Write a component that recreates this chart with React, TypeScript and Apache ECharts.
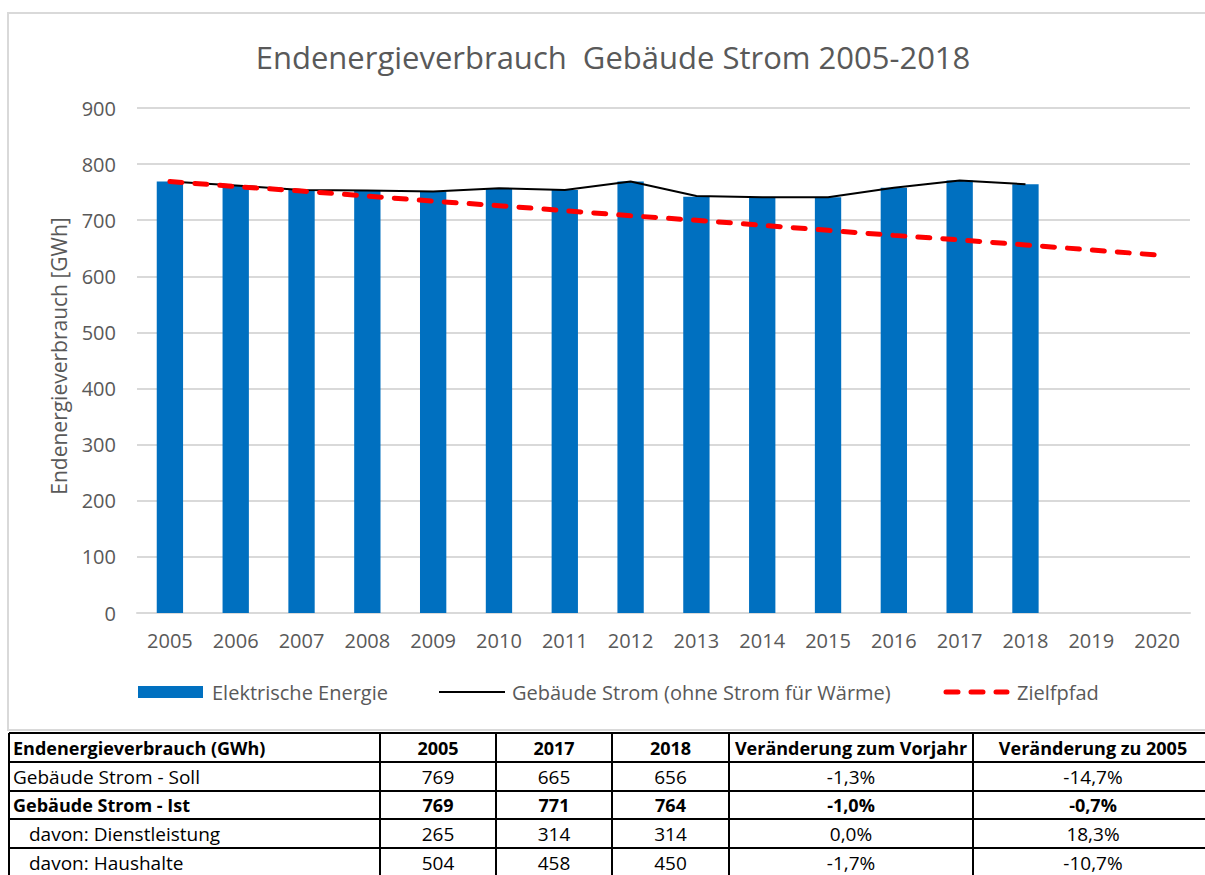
import React, { useEffect, useRef } from "react";
import * as echarts from "echarts";

const FONT = "'Open Sans', 'Noto Sans', sans-serif";

const years = ["2005", "2006", "2007", "2008", "2009", "2010", "2011", "2012", "2013", "2014", "2015", "2016", "2017", "2018", "2019", "2020"];
const elektrischeEnergie = [769, 762, 754, 753, 751, 757, 754, 769, 742, 741, 741, 758, 771, 764];
const gebaeudeStrom = [769, 762, 754, 753, 751, 757, 754, 769, 743, 741, 741, 758, 771, 764];
const zielpfad = [769, 760, 752, 743, 734, 726, 717, 708, 700, 691, 682, 673, 665, 656, 647, 638];

const seriesNames = ["Elektrische Energie", "Gebäude Strom (ohne Strom für Wärme)", "Zielfpfad"];

const tableHeader = ["Endenergieverbrauch (GWh)", "2005", "2017", "2018", "Veränderung zum Vorjahr", "Veränderung zu 2005"];
const tableLabels = ["Gebäude Strom - Soll", "Gebäude Strom - Ist", "davon: Dienstleistung", "davon: Haushalte"];
const labelIndent = [0, 0, 1, 1];
const tableValues = [
  ["769", "665", "656", "-1,3%", "-14,7%"],
  ["769", "771", "764", "-1,0%", "-0,7%"],
  ["265", "314", "314", "0,0%", "18,3%"],
  ["504", "458", "450", "-1,7%", "-10,7%"],
];
const boldRows = [true, false, true, false, false];

const colX = [9, 380, 496, 612, 729, 973, 1213];
const rowY = [733, 762, 791, 819, 848, 877];

export default function App() {
  const ref = useRef<HTMLDivElement>(null);
  useEffect(() => {
    if (!ref.current) return;
    const chart = echarts.init(ref.current, null, { renderer: "svg" });

    const graphic: any[] = [];
    graphic.push({
      type: "rect",
      shape: { x: 8, y: 13, width: 1210, height: 717 },
      style: { fill: "none", stroke: "#d9d9d9", lineWidth: 2 },
      silent: true,
    });
    graphic.push({
      type: "text",
      x: 613,
      y: 57,
      style: {
        text: "Endenergieverbrauch  Gebäude Strom 2005-2018",
        fontSize: 31,
        fontFamily: FONT,
        fill: "#595959",
        align: "center",
        verticalAlign: "middle",
      },
    });
    graphic.push({
      type: "text",
      x: 59,
      y: 356,
      rotation: Math.PI / 2,
      style: {
        text: "Endenergieverbrauch [GWh]",
        fontSize: 21,
        fontFamily: FONT,
        fill: "#595959",
        align: "center",
        verticalAlign: "middle",
      },
    });

    // legend
    const legY = 692;
    const legendFont = { fontSize: 20, fontFamily: FONT, fill: "#595959", align: "left", verticalAlign: "middle" };
    graphic.push({
      type: "rect",
      shape: { x: 138, y: legY - 6, width: 65, height: 12 },
      style: { fill: "#0070C0" },
    });
    graphic.push({ type: "text", x: 212, y: legY, style: { ...legendFont, text: seriesNames[0] } });
    graphic.push({
      type: "line",
      shape: { x1: 439, y1: legY, x2: 505, y2: legY },
      style: { stroke: "#000", lineWidth: 2 },
    });
    graphic.push({ type: "text", x: 512, y: legY, style: { ...legendFont, text: seriesNames[1] } });
    graphic.push({
      type: "line",
      shape: { x1: 946, y1: legY, x2: 1007, y2: legY },
      style: { stroke: "#FF0000", lineWidth: 5, lineDash: [12, 13], lineCap: "round" },
    });
    graphic.push({ type: "text", x: 1017, y: legY, style: { ...legendFont, text: seriesNames[2] } });

    // table lines
    rowY.forEach((y) => {
      graphic.push({
        type: "line",
        shape: { x1: colX[0], y1: y, x2: 1215, y2: y },
        style: { stroke: "#000", lineWidth: 2 },
      });
    });
    colX.forEach((x) => {
      graphic.push({
        type: "line",
        shape: { x1: x, y1: rowY[0], x2: x, y2: 880 },
        style: { stroke: "#000", lineWidth: 2 },
      });
    });
    const rows = [tableHeader, ...tableLabels.map((l, i) => [l, ...tableValues[i]])];
    rows.forEach((row, r) => {
      const cy = (rowY[r] + rowY[r + 1]) / 2;
      row.forEach((cell, c) => {
        const isFirst = c === 0;
        const indent = r > 0 && labelIndent[r - 1] ? 16 : 0;
        graphic.push({
          type: "text",
          x: isFirst ? colX[0] + 4 + indent : (colX[c] + colX[c + 1]) / 2,
          y: cy,
          style: {
            text: cell,
            fontSize: boldRows[r] ? 18 : 19,
            fontFamily: FONT,
            fontWeight: boldRows[r] ? "bold" : "normal",
            fill: "#000",
            align: isFirst ? "left" : "center",
            verticalAlign: "middle",
          },
        });
      });
    });

    chart.setOption({
      animation: false,
      grid: { left: 137, right: 15, top: 108, bottom: 262 },
      xAxis: {
        type: "category",
        data: years,
        axisLine: { lineStyle: { color: "#d9d9d9", width: 2 } },
        axisTick: { show: false },
        axisLabel: { color: "#595959", fontSize: 20, fontFamily: FONT, margin: 17 },
      },
      yAxis: {
        type: "value",
        min: 0,
        max: 900,
        interval: 100,
        axisLine: { show: false },
        axisTick: { show: false },
        splitLine: { lineStyle: { color: "#d9d9d9", width: 2 } },
        axisLabel: { color: "#595959", fontSize: 20, fontFamily: FONT, margin: 21 },
      },
      series: [
        {
          name: seriesNames[0],
          type: "bar",
          data: elektrischeEnergie,
          barWidth: "40%",
          itemStyle: { color: "#0070C0" },
        },
        {
          name: seriesNames[1],
          type: "line",
          data: gebaeudeStrom,
          symbol: "none",
          lineStyle: { color: "#000", width: 2 },
          itemStyle: { color: "#000" },
        },
        {
          name: seriesNames[2],
          type: "line",
          data: zielpfad,
          symbol: "none",
          lineStyle: { color: "#FF0000", width: 5, type: [12, 13], cap: "round" },
          itemStyle: { color: "#FF0000" },
        },
      ],
      graphic,
    });
    return () => chart.dispose();
  }, []);
  return <div ref={ref} style={{ position: "absolute", left: 0, top: 0, width: 1205, height: 875 }} />;
}
